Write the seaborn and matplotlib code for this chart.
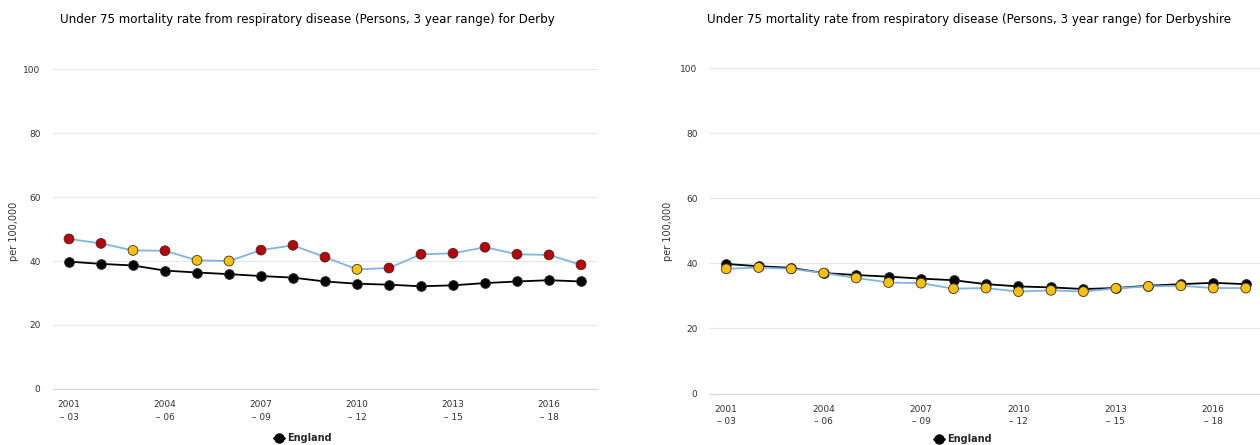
import numpy as np
import pandas as pd
import matplotlib.pyplot as plt
import seaborn as sns
from matplotlib.lines import Line2D

# Periods (3 year ranges)
periods = ['2001\n– 03', '2002\n– 04', '2003\n– 05', '2004\n– 06', '2005\n– 07', '2006\n– 08',
           '2007\n– 09', '2008\n– 10', '2009\n– 11', '2010\n– 12', '2011\n– 13', '2012\n– 14',
           '2013\n– 15', '2014\n– 16', '2015\n– 17', '2016\n– 18', '2017\n– 19']

england = [39.8, 39.1, 38.6, 37.0, 36.4, 35.9, 35.3, 34.8, 33.6, 32.9, 32.6, 32.1, 32.4, 33.1, 33.6, 34.0, 33.6]

derby = [46.9, 45.5, 43.3, 43.2, 40.2, 40.0, 43.4, 44.9, 41.2, 37.4, 37.8, 42.1, 42.4, 44.3, 42.1, 41.9, 38.8]
derby_sig = ['worse', 'worse', 'similar', 'worse', 'similar', 'similar', 'worse', 'worse', 'worse',
             'similar', 'worse', 'worse', 'worse', 'worse', 'worse', 'worse', 'worse']

derbyshire = [38.3, 38.7, 38.3, 37.0, 35.5, 34.1, 33.9, 32.2, 32.4, 31.3, 31.7, 31.3, 32.3, 32.9, 33.1, 32.4, 32.4]
derbyshire_sig = ['similar'] * 17

sig_colors = {'worse': '#c00000', 'similar': '#ffc000'}

sns.set_style('white')
plt.rcParams['font.family'] = ['DejaVu Sans']

fig = plt.figure(figsize=(12.6, 4.45), dpi=100)

panels = [
    ('Derby', derby, derby_sig, [53 / 1260, 1 - 389 / 445, 544 / 1260, 320 / 445], 307, 14, (303, 438)),
    ('Derbyshire', derbyshire, derbyshire_sig, [710 / 1260, 1 - 393.5 / 445, 552 / 1260, 325.5 / 445], 969, 668, (963, 439)),
]

for name, vals, sig, pos, title_x, ylab_x, leg_xy in panels:
    ax = fig.add_axes(pos)
    df = pd.DataFrame({'x': np.arange(len(periods)), 'england': england, 'area': vals, 'sig': sig})

    # England comparator
    sns.lineplot(data=df, x='x', y='england', color='black', lw=1.3, ax=ax, zorder=2)
    sns.scatterplot(data=df, x='x', y='england', color='black', s=50, edgecolor='#333333',
                    linewidth=0.6, ax=ax, zorder=3)

    # Area series
    sns.lineplot(data=df, x='x', y='area', color='#7cb5ec', lw=1.3, ax=ax, zorder=4)
    sns.scatterplot(data=df, x='x', y='area', hue='sig', palette=sig_colors, s=50,
                    edgecolor='#333333', linewidth=0.6, ax=ax, zorder=5, legend=False)

    ax.set_xlim(-0.5, len(periods) - 0.5)
    ax.set_ylim(0, 100)
    ax.set_yticks([0, 20, 40, 60, 80, 100])
    ax.set_yticklabels(['0', '20', '40', '60', '80', '100'], fontsize=6.5, color='#333333')
    ax.set_xticks(np.arange(len(periods)))
    ax.set_xticklabels([p if i % 3 == 0 else '' for i, p in enumerate(periods)],
                       fontsize=6.5, color='#333333', linespacing=1.5)
    ax.tick_params(axis='y', length=0, pad=9)
    ax.tick_params(axis='x', length=4, color='#ccd6eb', pad=4)
    ax.grid(axis='y', color='#e6e6e6', lw=0.8)
    for s in ['top', 'right', 'left']:
        ax.spines[s].set_visible(False)
    ax.spines['bottom'].set_color('#ccd6eb')
    ax.set_xlabel('')
    ax.set_ylabel('')

    fig.text(title_x / 1260, 1 - 20 / 445,
             f'Under 75 mortality rate from respiratory disease (Persons, 3 year range) for {name}',
             ha='center', va='center', fontsize=8.6, color='black')
    fig.text(ylab_x / 1260, 1 - 231 / 445, 'per 100,000', rotation=90, ha='center', va='center',
             fontsize=7, color='#333333')

    handle = Line2D([0], [0], color='black', marker='o', markersize=6.5, lw=2)
    fig.legend(handles=[handle], labels=['England'], loc='center',
               bbox_to_anchor=(leg_xy[0] / 1260, 1 - leg_xy[1] / 445), frameon=False,
               handlelength=1.0, handletextpad=0.4, prop={'weight': 'bold', 'size': 7})

fig.savefig('out.png', dpi=100)
